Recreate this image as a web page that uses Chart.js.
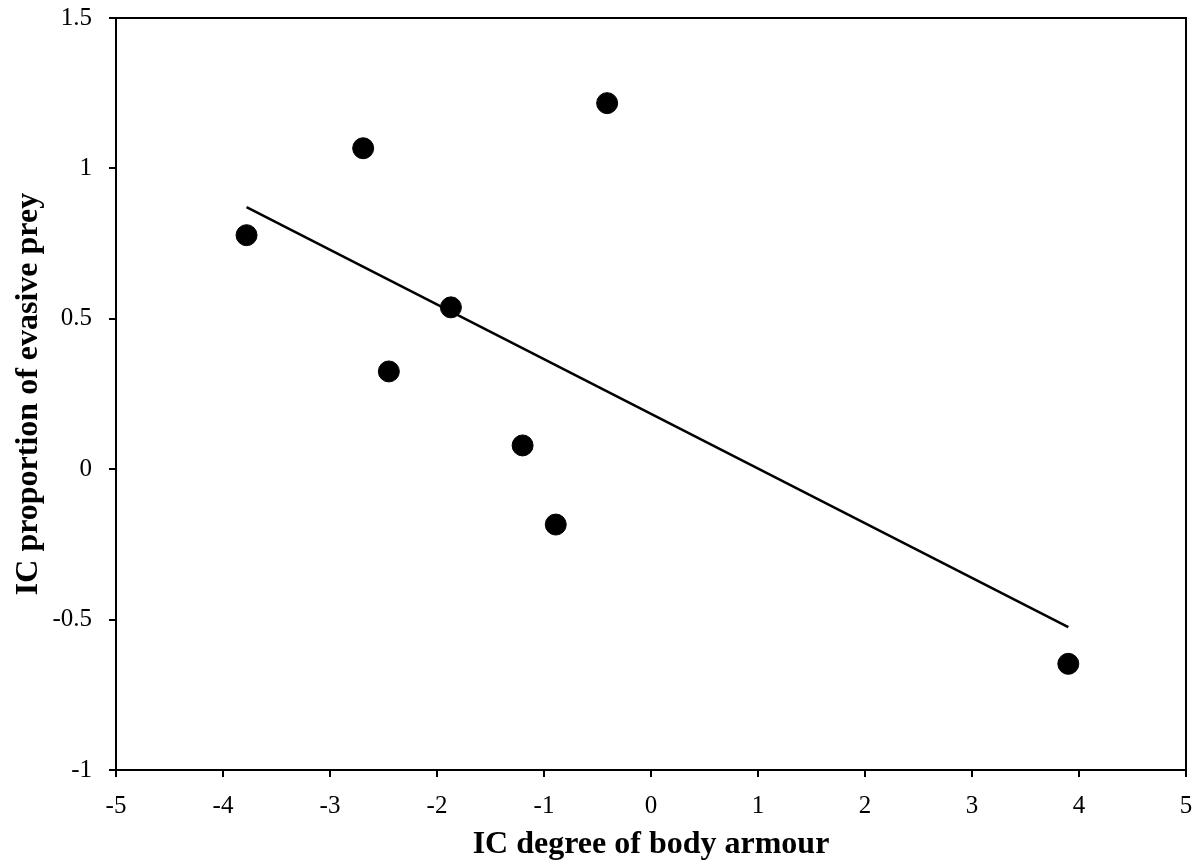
<!DOCTYPE html>
<html lang="en">
<head>
  <meta charset="UTF-8">
  <title>IC body armour vs evasive prey</title>
  <script src="https://cdn.jsdelivr.net/npm/chart.js@4.4.0/dist/chart.umd.min.js"></script>
  <style>
    body { margin: 0; padding: 0; background: #ffffff; }
    #wrap { width: 1198px; height: 865px; position: relative; }
  </style>
</head>
<body>
  <div id="wrap">
    <canvas id="scatterChart"></canvas>
  </div>
  <script>
    // values
    const armour = [-3.78, -2.69, -0.41, -1.87, -2.45, -1.20, -0.89, 3.90];
    const evasive = [0.778, 1.067, 1.217, 0.538, 0.325, 0.079, -0.184, -0.647];
    const trendX = [-3.78, 3.90];
    const trendY = [0.871, -0.525];

    const xTitle = 'IC degree of body armour';
    const yTitle = 'IC proportion of evasive prey';

    const points = armour.map((x, i) => ({ x: x, y: evasive[i] }));
    const trend = trendX.map((x, i) => ({ x: x, y: trendY[i] }));

    // closed box around the plot area (top and right edges)
    const frame = {
      id: 'frame',
      afterDatasetsDraw(chart) {
        const a = chart.chartArea;
        const ctx = chart.ctx;
        ctx.save();
        ctx.strokeStyle = '#000';
        ctx.lineWidth = 2;
        ctx.strokeRect(a.left, a.top, a.right - a.left, a.bottom - a.top);
        ctx.restore();
      }
    };

    const serif = "'Liberation Serif', 'Times New Roman', serif";
    const tickFont = { family: serif, size: 25 };
    const titleFont = { family: serif, size: 32, weight: 'bold' };

    new Chart(document.getElementById('scatterChart'), {
      type: 'scatter',
      data: {
        datasets: [{
          label: 'Species',
          data: points,
          backgroundColor: '#000',
          borderColor: '#000',
          pointRadius: 10.5,
          pointHoverRadius: 10.5
        }, {
          type: 'line',
          label: 'Trend',
          data: trend,
          borderColor: '#000',
          borderWidth: 2.5,
          pointRadius: 0,
          fill: false
        }]
      },
      options: {
        responsive: true,
        maintainAspectRatio: false,
        animation: false,
        layout: { padding: { top: 18, right: 12, left: 0, bottom: 0 } },
        plugins: {
          legend: { display: false },
          tooltip: { enabled: false }
        },
        scales: {
          x: {
            type: 'linear',
            min: -5,
            max: 5,
            ticks: { stepSize: 1, color: '#000', font: tickFont, padding: 14, callback: v => String(v) },
            grid: { drawOnChartArea: false, drawTicks: true, tickLength: 7, color: '#000', lineWidth: 2 },
            border: { color: '#000', width: 2 },
            title: { display: true, text: xTitle, color: '#000', font: titleFont, padding: { top: 0, bottom: 1 } },
            afterFit(s) { s.height = 95; s.paddingLeft = 0; s.paddingRight = 0; }
          },
          y: {
            min: -1,
            max: 1.5,
            ticks: { stepSize: 0.5, color: '#000', font: tickFont, padding: 17, callback: v => String(v) },
            grid: { drawOnChartArea: false, drawTicks: true, tickLength: 7, color: '#000', lineWidth: 2 },
            border: { color: '#000', width: 2 },
            title: { display: true, text: yTitle, color: '#000', font: titleFont, padding: { top: 10, bottom: 10 } },
            afterFit(s) { s.width = 116; s.paddingTop = 0; s.paddingBottom = 0; }
          }
        }
      },
      plugins: [frame]
    });
  </script>
</body>
</html>
